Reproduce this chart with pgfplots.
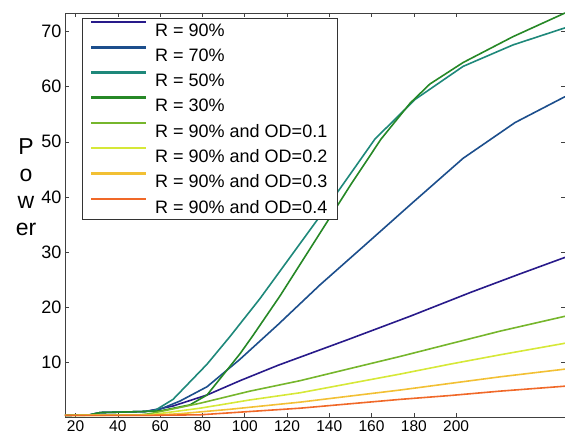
\documentclass[border=0pt]{standalone}
\usepackage{pgfplots}
\pgfplotsset{compat=1.18}
\usepackage{fontspec}
\setmainfont{Liberation Sans}

\definecolor{cA}{RGB}{40,26,138}
\definecolor{cB}{RGB}{28,78,140}
\definecolor{cC}{RGB}{30,136,122}
\definecolor{cD}{RGB}{38,136,38}
\definecolor{cE}{RGB}{118,182,44}
\definecolor{cF}{RGB}{214,232,56}
\definecolor{cG}{RGB}{242,192,52}
\definecolor{cH}{RGB}{240,104,40}

\begin{document}
\begin{tikzpicture}
\begin{axis}[
  name=ax,
  scale only axis,
  width=500pt, height=404pt,
  xmin=15, xmax=251.5,
  ymin=0, ymax=73.4,
  xtick={20,40,...,200},
  ytick={10,20,...,70},
  tick align=inside,
  major tick length=4pt,
  axis line style={black!75, line width=0.6pt},
  every tick/.style={black!75, line width=0.5pt},
  /pgf/number format/assume math mode=true,
  xticklabel style={font=\fontsize{15.5}{18}\selectfont},
  yticklabel style={font=\fontsize{18}{20}\selectfont},
  ylabel={P\\o\\w\\er},
  ylabel style={rotate=-90, align=center, font=\fontsize{23}{27}\selectfont,
    at={(axis description cs:-0.078,0.57)}, anchor=center},
  legend cell align=left,
  legend style={at={(axis description cs:0.034,0.988)}, anchor=north west,
    draw=black!80, fill=white,
    font=\fontsize{18}{20}\selectfont, row sep=6.4pt,
    inner xsep=8pt, inner ysep=3pt},
  legend image code/.code={%
    \draw[#1, line width=2.4pt] (0pt,8.5pt) -- (55pt,8.5pt);
    \path (61pt,8.5pt);},
  every axis plot/.append style={line width=1.6pt},
]
\addplot[cA] coordinates {(15,0.3)(26.8,0.4)(31.6,0.8)(52.8,1.0)(59.9,1.5)(66.1,2.0)(82.2,4.0)(97.8,6.6)(115.8,9.4)(148.4,14.0)(178.2,18.3)(206.6,22.6)(230.2,26.0)(251.5,29.0)};
\addlegendentry{R = 90\%}
\addplot[cB] coordinates {(15,0.3)(26.8,0.4)(31.6,0.8)(52.8,1.0)(59.9,1.4)(69.4,2.9)(82.2,5.5)(97.8,10.5)(115.8,16.8)(135.6,24.0)(155.9,30.9)(179.6,39.0)(203.3,47.0)(227.9,53.5)(251.5,58.2)};
\addlegendentry{R = 70\%}
\addplot[cC] coordinates {(15,0.3)(26.8,0.4)(31.6,0.8)(52.8,1.0)(57.6,1.2)(66.1,3.2)(82.2,9.6)(93.0,14.6)(107.2,21.5)(130.9,34.0)(145.1,41.5)(161.6,50.5)(180.6,57.7)(203.3,63.7)(226.9,67.6)(251.5,70.7)};
\addlegendentry{R = 50\%}
\addplot[cD] coordinates {(15,0.3)(26.8,0.4)(31.6,0.8)(52.8,1.0)(59.9,1.1)(74.1,2.2)(82.2,4.0)(97.8,11.5)(103.9,14.8)(116.7,22.0)(135.6,33.4)(149.8,42.0)(164.5,50.5)(178.2,57.0)(187.6,60.5)(203.3,64.4)(226.9,69.1)(251.5,73.4)};
\addlegendentry{R = 30\%}
\addplot[cE] coordinates {(15,0.3)(50.5,0.4)(55.2,0.6)(78.9,2.5)(102.5,4.7)(126.2,6.6)(149.8,8.8)(173.5,11.0)(197.1,13.3)(220.8,15.6)(251.5,18.3)};
\addlegendentry{R = 90\% and OD=0.1}
\addplot[cF] coordinates {(15,0.3)(50.5,0.35)(55.2,0.4)(78.9,1.6)(102.5,3.1)(126.2,4.4)(149.8,6.1)(173.5,7.8)(197.1,9.6)(220.8,11.3)(251.5,13.4)};
\addlegendentry{R = 90\% and OD=0.2}
\addplot[cG] coordinates {(15,0.3)(55.2,0.3)(69.4,0.6)(93.0,1.4)(126.2,2.7)(149.8,3.8)(173.5,4.9)(197.1,6.1)(220.8,7.3)(251.5,8.7)};
\addlegendentry{R = 90\% and OD=0.3}
\addplot[cH] coordinates {(15,0.3)(55.2,0.3)(78.9,0.4)(102.5,1.0)(126.2,1.6)(149.8,2.4)(173.5,3.2)(197.1,3.9)(220.8,4.7)(251.5,5.6)};
\addlegendentry{R = 90\% and OD=0.4}
\end{axis}
\pgfresetboundingbox
\path[use as bounding box] (ax.south west) ++(-65pt,-22pt) rectangle ++(565pt,439pt);
\end{tikzpicture}
\end{document}
